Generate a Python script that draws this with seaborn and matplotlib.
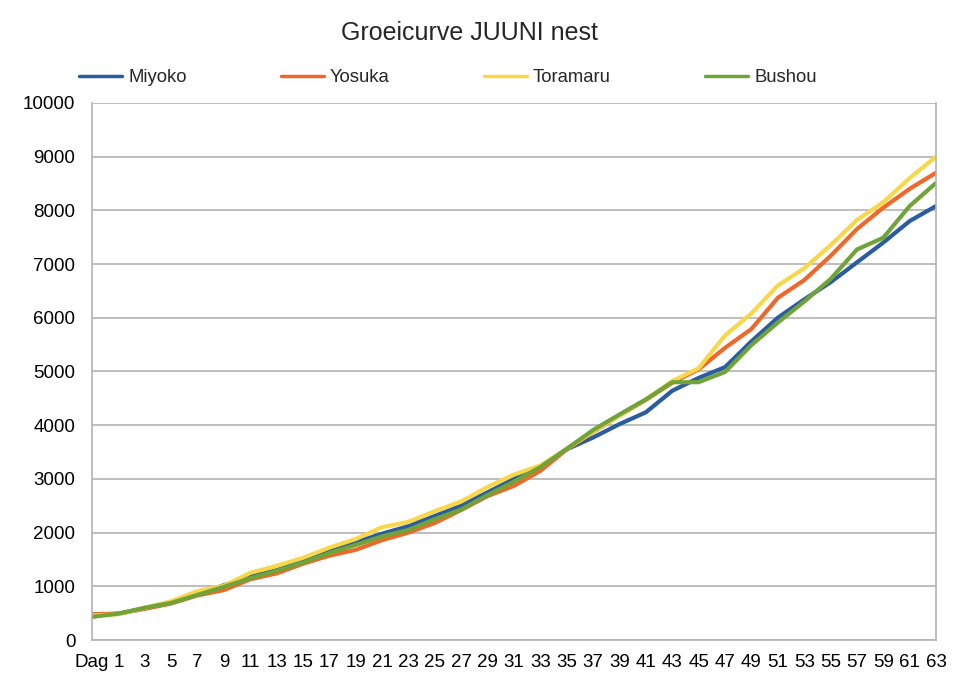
#!/usr/bin/env python3

import matplotlib

matplotlib.use("Agg")
import matplotlib.pyplot as plt
import pandas
import seaborn as sns

# Category labels on the x axis (one measurement every two days)
days = ["Dag"] + [str(d) for d in range(1, 64, 2)]

# Weights (grams)
miyoko = [470, 490, 590, 690, 850, 1020, 1180, 1300, 1470, 1650, 1820, 1980,
          2120, 2310, 2500, 2750, 3000, 3200, 3550, 3770, 4020, 4240, 4640,
          4880, 5080, 5560, 6000, 6340, 6660, 7030, 7400, 7800, 8080]
yosuka = [480, 490, 580, 680, 830, 930, 1130, 1240, 1420, 1570, 1680, 1860,
          2000, 2180, 2420, 2680, 2870, 3150, 3550, 3870, 4180, 4470, 4790,
          5040, 5440, 5790, 6370, 6700, 7150, 7650, 8050, 8400, 8700]
toramaru = [455, 480, 600, 720, 910, 1010, 1250, 1380, 1530, 1720, 1880, 2100,
            2200, 2400, 2580, 2850, 3080, 3250, 3560, 3880, 4180, 4480, 4820,
            5060, 5670, 6080, 6600, 6920, 7350, 7820, 8150, 8600, 9000]
bushou = [430, 490, 600, 690, 840, 990, 1150, 1290, 1440, 1620, 1770, 1930,
          2050, 2250, 2430, 2700, 2950, 3220, 3560, 3910, 4200, 4480, 4800,
          4800, 4990, 5490, 5910, 6300, 6720, 7270, 7490, 8080, 8510]

names = ["Miyoko", "Yosuka", "Toramaru", "Bushou"]
colors = ["#2a5d9f", "#f0672a", "#f8d748", "#70a338"]


def build_frame():
    rows = []
    for name, values in zip(names, [miyoko, yosuka, toramaru, bushou]):
        for i, v in enumerate(values):
            rows.append({"pos": i, "day": days[i], "weight": v, "name": name})
    return pandas.DataFrame(rows)


def main():
    df = build_frame()

    sns.set_style("white")
    plt.rcParams["font.family"] = ["Liberation Sans", "DejaVu Sans"]

    fig = plt.figure(figsize=(9.7, 7.0), dpi=100)
    ax = fig.add_axes([0.0948, 0.0857, 0.965 - 0.0948, 0.853 - 0.0857])

    sns.lineplot(
        data=df,
        x="pos",
        y="weight",
        hue="name",
        hue_order=names,
        palette=colors,
        linewidth=3,
        ax=ax,
        legend=True,
    )

    ax.set_xlim(0, len(days) - 1)
    ax.set_ylim(0, 10000)
    ax.set_xticks(range(len(days)))
    ax.set_xticklabels(days)
    ax.set_yticks(range(0, 10001, 1000))
    ax.set_xlabel("")
    ax.set_ylabel("")

    grid = "#b3b3b3"
    ax.yaxis.grid(True, color=grid, linewidth=1.2)
    ax.xaxis.grid(False)
    ax.set_axisbelow(True)
    for side in ["left", "bottom", "right"]:
        ax.spines[side].set_color(grid)
        ax.spines[side].set_linewidth(1.2)
    ax.spines["top"].set_visible(False)
    ax.tick_params(axis="both", labelsize=13.5, colors=grid, labelcolor="black",
                   direction="out", width=1.2)
    ax.tick_params(axis="y", length=8, pad=4)
    ax.tick_params(axis="x", length=6, pad=4)

    handles, labels = ax.get_legend_handles_labels()
    ax.get_legend().remove()
    for h in handles:
        h.set_linewidth(2.5)
    fig.legend(
        handles,
        labels,
        loc="center",
        bbox_to_anchor=(448 / 970, 0.889),
        ncol=4,
        frameon=False,
        fontsize=13.3,
        handlelength=2.3,
        handletextpad=0.35,
        columnspacing=5.1,
        borderpad=0,
    )

    fig.text(0.484, 0.953, "Groeicurve JUUNI nest", ha="center", va="center",
             fontsize=18)

    fig.savefig("out.png", dpi=100)


if __name__ == "__main__":
    main()
